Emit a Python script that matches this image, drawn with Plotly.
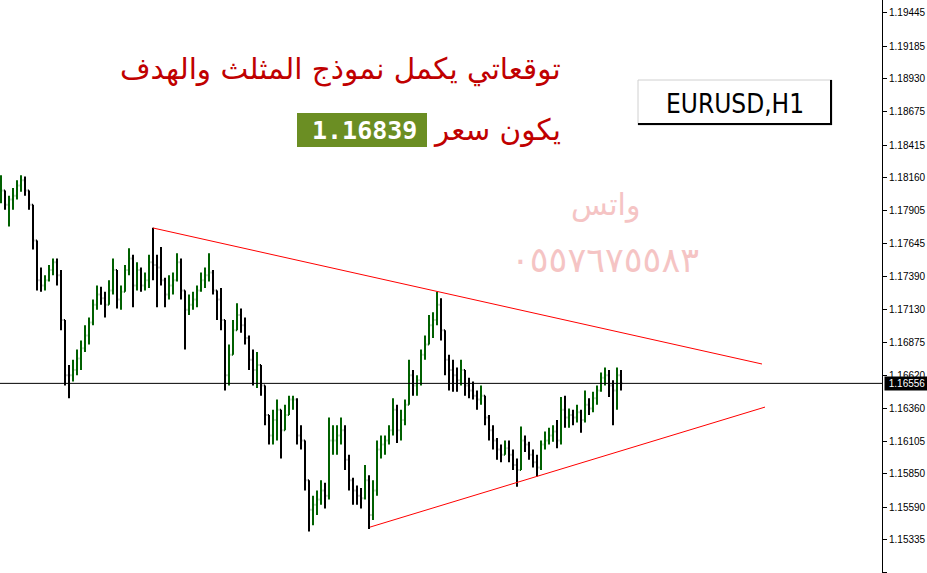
import plotly.graph_objects as go

# ---------------- data ----------------
first_open = 1.1799
highs = [
    1.1818, 1.1806, 1.1802, 1.1808, 1.1814, 1.1818, 1.1817, 1.1805, 1.1793, 1.1760,
    1.1746, 1.1740, 1.1748, 1.1753, 1.1753, 1.1744, 1.1705, 1.1670, 1.1674, 1.1682,
    1.1689, 1.1701, 1.1707, 1.1721, 1.1732, 1.1731, 1.1727, 1.1736, 1.1753, 1.1736,
    1.1732, 1.1748, 1.1761, 1.1756, 1.1750, 1.1746, 1.1742, 1.1756, 1.1777, 1.1756,
    1.1762, 1.1738, 1.1740, 1.1742, 1.1757, 1.1753, 1.1721, 1.1725, 1.1727, 1.1732,
    1.1742, 1.1746, 1.1757, 1.1744, 1.1728, 1.1730, 1.1705, 1.1686, 1.1705, 1.1718,
    1.1714, 1.1707, 1.1693, 1.1682, 1.1680, 1.1666, 1.1654, 1.1631, 1.1635, 1.1643,
    1.1635, 1.1639, 1.1646, 1.1646, 1.1644, 1.1623, 1.1611, 1.1580, 1.1568, 1.1572,
    1.1580, 1.1578, 1.1629, 1.1623, 1.1623, 1.1629, 1.1623, 1.1600, 1.1582, 1.1576,
    1.1574, 1.1592, 1.1584, 1.1580, 1.1611, 1.1615, 1.1615, 1.1623, 1.1644, 1.1639,
    1.1635, 1.1643, 1.1674, 1.1666, 1.1662, 1.1682, 1.1693, 1.1709, 1.1711, 1.1727,
    1.1722, 1.1693, 1.1678, 1.1674, 1.1668, 1.1674, 1.1666, 1.1660, 1.1657, 1.1650,
    1.1654, 1.1643, 1.1631, 1.1623, 1.1613, 1.1608, 1.1611, 1.1611, 1.1604, 1.1597,
    1.1622, 1.1615, 1.1610, 1.1604, 1.1600, 1.1611, 1.1618, 1.1621, 1.1623, 1.1627,
    1.1645, 1.1646, 1.1636, 1.1635, 1.1639, 1.1635, 1.1650, 1.1644, 1.1649, 1.1654,
    1.1664, 1.1668, 1.1666, 1.1658, 1.1668, 1.1666,
]
lows = [
    1.1796, 1.1791, 1.1778, 1.1791, 1.1799, 1.1805, 1.1802, 1.1791, 1.1760, 1.1728,
    1.1727, 1.1728, 1.1735, 1.1740, 1.1732, 1.1697, 1.1654, 1.1644, 1.1657, 1.1662,
    1.1666, 1.1680, 1.1686, 1.1701, 1.1713, 1.1717, 1.1707, 1.1717, 1.1725, 1.1714,
    1.1713, 1.1728, 1.1740, 1.1715, 1.1728, 1.1727, 1.1728, 1.1730, 1.1736, 1.1715,
    1.1732, 1.1715, 1.1721, 1.1725, 1.1735, 1.1721, 1.1682, 1.1709, 1.1713, 1.1715,
    1.1727, 1.1730, 1.1735, 1.1725, 1.1705, 1.1697, 1.1650, 1.1654, 1.1678, 1.1697,
    1.1695, 1.1686, 1.1666, 1.1654, 1.1652, 1.1646, 1.1623, 1.1608, 1.1608, 1.1611,
    1.1597, 1.1619, 1.1631, 1.1635, 1.1608, 1.1604, 1.1572, 1.1540, 1.1545, 1.1553,
    1.1561, 1.1558, 1.1565, 1.1600, 1.1600, 1.1608, 1.1588, 1.1572, 1.1561, 1.1561,
    1.1558, 1.1565, 1.1542, 1.1549, 1.1568, 1.1597, 1.1600, 1.1608, 1.1615, 1.1609,
    1.1611, 1.1623, 1.1639, 1.1646, 1.1646, 1.1654, 1.1674, 1.1686, 1.1691, 1.1701,
    1.1689, 1.1662, 1.1650, 1.1649, 1.1649, 1.1654, 1.1646, 1.1644, 1.1643, 1.1635,
    1.1639, 1.1623, 1.1611, 1.1604, 1.1596, 1.1594, 1.1600, 1.1594, 1.1588, 1.1575,
    1.1588, 1.1602, 1.1596, 1.1590, 1.1583, 1.1588, 1.1604, 1.1608, 1.1610, 1.1605,
    1.1608, 1.1621, 1.1621, 1.1623, 1.1625, 1.1617, 1.1625, 1.1631, 1.1633, 1.1639,
    1.1649, 1.1654, 1.1645, 1.1623, 1.1635, 1.1650,
]
closes = [
    1.1806, 1.1795, 1.1799, 1.1802, 1.1810, 1.1814, 1.1806, 1.1795, 1.1767, 1.1736,
    1.1732, 1.1736, 1.1744, 1.1750, 1.1740, 1.1705, 1.1662, 1.1662, 1.1666, 1.1675,
    1.1683, 1.1693, 1.1703, 1.1717, 1.1725, 1.1722, 1.1717, 1.1728, 1.1744, 1.1721,
    1.1727, 1.1744, 1.1753, 1.1732, 1.1744, 1.1732, 1.1736, 1.1750, 1.1748, 1.1746,
    1.1736, 1.1725, 1.1732, 1.1736, 1.1750, 1.1728, 1.1713, 1.1717, 1.1721, 1.1728,
    1.1736, 1.1740, 1.1742, 1.1728, 1.1721, 1.1705, 1.1662, 1.1678, 1.1697, 1.1709,
    1.1701, 1.1691, 1.1674, 1.1666, 1.1670, 1.1654, 1.1631, 1.1615, 1.1627, 1.1635,
    1.1619, 1.1631, 1.1643, 1.1643, 1.1615, 1.1611, 1.1580, 1.1557, 1.1561, 1.1565,
    1.1572, 1.1568, 1.1611, 1.1611, 1.1615, 1.1619, 1.1596, 1.1580, 1.1572, 1.1568,
    1.1566, 1.1580, 1.1553, 1.1572, 1.1604, 1.1608, 1.1611, 1.1619, 1.1635, 1.1619,
    1.1627, 1.1639, 1.1662, 1.1654, 1.1658, 1.1678, 1.1686, 1.1701, 1.1705, 1.1717,
    1.1697, 1.1674, 1.1666, 1.1662, 1.1658, 1.1666, 1.1654, 1.1650, 1.1646, 1.1643,
    1.1646, 1.1629, 1.1619, 1.1611, 1.1604, 1.1600, 1.1605, 1.1600, 1.1592, 1.1588,
    1.1611, 1.1608, 1.1600, 1.1594, 1.1590, 1.1608, 1.1611, 1.1615, 1.1618, 1.1611,
    1.1635, 1.1629, 1.1631, 1.1629, 1.1633, 1.1627, 1.1639, 1.1636, 1.1644, 1.1650,
    1.1660, 1.1662, 1.1654, 1.1650, 1.1662, 1.16556,
]
bid_price = 1.16556
target_price = "1.16839"
upper_trend_x = [38, 190.25]
upper_trend_y = [1.17768, 1.16707]
lower_trend_x = [92.25, 191]
lower_trend_y = [1.15435, 1.16371]
tick_values = [1.19445, 1.19185, 1.18930, 1.18675, 1.18415, 1.18160, 1.17905,
               1.17645, 1.17390, 1.17130, 1.16875, 1.16620, 1.16360, 1.16105,
               1.15850, 1.15590, 1.15335, 1.15080]
tick_labels = ["%.5f" % v for v in tick_values]
y_range = [1.15077, 1.19546]
x_range = [-0.25, 220.25]

title_line1 = "توقعاتي يكمل نموذج المثلث والهدف"
title_line2 = "يكون سعر"
watermark1 = "واتس"
watermark2 = "٠٥٥٧٦٧٥٥٨٣"
symbol_label = "EURUSD,H1"

# ---------------- build ----------------
opens = [first_open] + closes[:-1]
hi = [max(h, o, c) for h, o, c in zip(highs, opens, closes)]
lo = [min(l, o, c) for l, o, c in zip(lows, opens, closes)]
idx = list(range(len(closes)))

W, H = 927, 573
PW = 882  # plot area width

def px(x):
    return x / PW

def py(y):
    return 1 - y / H

fig = go.Figure()
fig.add_trace(go.Ohlc(
    x=idx, open=opens, high=hi, low=lo, close=closes,
    increasing=dict(line=dict(color="#006000", width=2)),
    decreasing=dict(line=dict(color="#000000", width=2)),
    tickwidth=0.3, showlegend=False, hoverinfo="skip",
))
for tx, ty in ((upper_trend_x, upper_trend_y), (lower_trend_x, lower_trend_y)):
    fig.add_trace(go.Scatter(x=tx, y=ty, mode="lines",
                             line=dict(color="#ff0000", width=1),
                             showlegend=False, hoverinfo="skip"))

shapes = [
    dict(type="line", xref="paper", yref="y", x0=0, x1=1, y0=bid_price, y1=bid_price,
         line=dict(color="black", width=1)),
    # green target box
    dict(type="rect", xref="paper", yref="paper", x0=px(297), x1=px(427),
         y0=py(147), y1=py(113), fillcolor="#6b8e23", line=dict(width=0)),
    # symbol box
    dict(type="rect", xref="paper", yref="paper", x0=px(638), x1=px(832),
         y0=py(125), y1=py(80), fillcolor="white", line=dict(color="#d0d0d0", width=1)),
    dict(type="line", xref="paper", yref="paper", x0=px(831), x1=px(831),
         y0=py(80), y1=py(125), line=dict(color="black", width=2)),
    dict(type="line", xref="paper", yref="paper", x0=px(638), x1=px(832),
         y0=py(124), y1=py(124), line=dict(color="black", width=2)),
]

red = "#c00000"
pink = "#f5c4c4"
annotations = [
    dict(xref="paper", yref="paper", x=px(563), y=py(70), xanchor="right", yanchor="middle",
         text=title_line1, showarrow=False, font=dict(family="DejaVu Sans", size=29.5, color=red)),
    dict(xref="paper", yref="paper", x=px(563), y=py(130), xanchor="right", yanchor="middle",
         text=title_line2, showarrow=False, font=dict(family="DejaVu Sans", size=29.5, color=red)),
    dict(xref="paper", yref="paper", x=px(364), y=py(130), xanchor="center", yanchor="middle",
         text="<b>%s</b>" % target_price, showarrow=False,
         font=dict(family="DejaVu Sans Mono", size=25, color="white")),
    dict(xref="paper", yref="paper", x=px(605), y=py(205), xanchor="center", yanchor="middle",
         text=watermark1, showarrow=False, font=dict(family="DejaVu Sans", size=30, color=pink)),
    dict(xref="paper", yref="paper", x=px(605), y=py(260), xanchor="center", yanchor="middle",
         text=watermark2, showarrow=False, font=dict(family="DejaVu Sans", size=35, color=pink)),
    dict(xref="paper", yref="paper", x=px(735), y=py(104), xanchor="center", yanchor="middle",
         text=symbol_label, showarrow=False,
         font=dict(family="Liberation Sans Narrow, DejaVu Sans Condensed, sans-serif",
                   size=26, color="black")),
    dict(xref="paper", yref="y", x=1, y=bid_price, xanchor="left", yanchor="middle", xshift=2,
         text=" %.5f " % bid_price, showarrow=False, bgcolor="black", borderpad=1,
         font=dict(family="Liberation Sans, Arial, sans-serif", size=10, color="white")),
]

fig.update_layout(
    width=W, height=H,
    margin=dict(l=0, r=W - PW, t=0, b=0, autoexpand=False),
    paper_bgcolor="white", plot_bgcolor="white",
    shapes=shapes, annotations=annotations,
    showlegend=False,
    xaxis=dict(range=x_range, visible=False, rangeslider=dict(visible=False), fixedrange=True),
    yaxis=dict(range=y_range, side="right", showgrid=False, zeroline=False,
               showline=True, linecolor="black", linewidth=1,
               ticks="outside", ticklen=4, tickcolor="black", automargin=False,
               tickvals=tick_values, ticktext=tick_labels,
               tickfont=dict(family="Liberation Sans, Arial, sans-serif", size=10, color="black"),
               fixedrange=True),
)

fig.write_html("out.html", config={"displayModeBar": False},
               post_script="document.body.style.margin='0';document.body.style.overflow='hidden';")
